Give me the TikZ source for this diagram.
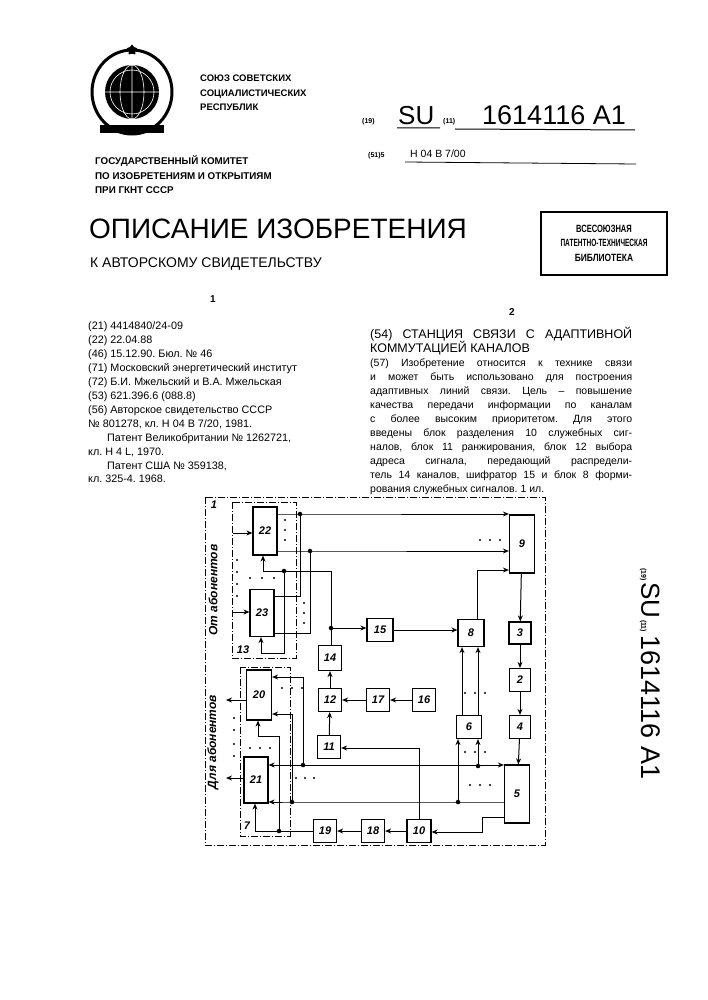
\documentclass[tikz,border=0pt]{standalone}
\usepackage{fontspec}
\setmainfont{Liberation Sans}
\usetikzlibrary{arrows.meta,shapes.geometric}
\newcommand{\fs}[1]{\fontsize{#1}{#1}\selectfont}
\frenchspacing
\begin{document}
\begin{tikzpicture}[x=1pt,y=-1pt,
  blk/.style={draw,line width=1.2pt,inner sep=0pt,font=\fs{11}\bfseries\itshape},
  w/.style={line width=1pt},
  ar/.style={line width=1pt,-{Stealth[length=6pt,width=5pt]}},
  dd/.style={line width=0.8pt,dash pattern=on 7pt off 2pt on 1pt off 2pt},
  tl/.style={anchor=base west,inner sep=0pt},
  dt/.style={circle,fill,inner sep=1.6pt}]
\useasboundingbox (0,0) rectangle (707,1000);
% emblem
\fill (132,92) circle (27);
\draw[line width=3pt] (132,92) ellipse (40 and 42);
\draw[white,line width=0.6pt] (132,92) circle (22) (105,92)--(159,92) (132,65)--(132,119) (132,92) ellipse (12 and 27);
\node[star,fill,minimum size=11pt,inner sep=0pt] (st) at (132,50) {};
\fill (100,125) rectangle (164,133);
% header text
\node[tl,font=\fs{9.5}\bfseries] (t1) at (200,82) {СОЮЗ  СОВЕТСКИХ};
\node[tl,font=\fs{9.5}\bfseries] (t2) at (200,97) {СОЦИАЛИСТИЧЕСКИХ};
\node[tl,font=\fs{9.5}\bfseries] (t3) at (200,111) {РЕСПУБЛИК};
\node[tl,font=\fs{7}\bfseries] (t4) at (362,124) {(19)};
\node[tl,font=\fs{26}] (t5) at (398,125) {SU};
\node[tl,font=\fs{7}\bfseries] (t6) at (443,124) {(11)};
\node[tl,font=\fs{27}] (t7) at (482,125) {1614116 A1};
\draw[line width=1pt] (397,128)--(440,128) (455,129)--(635,130);
\node[tl,font=\fs{7}\bfseries] (t8) at (368,158) {(51)5};
\node[tl,font=\fs{10.5}] (t9) at (410,158) {Н 04 В 7/00};
\draw[line width=0.8pt] (405,162)--(636,164);
\node[tl,font=\fs{9.8}\bfseries] (g1) at (95,165) {ГОСУДАРСТВЕННЫЙ  КОМИТЕТ};
\node[tl,font=\fs{9.8}\bfseries] (g2) at (95,180) {ПО ИЗОБРЕТЕНИЯМ И ОТКРЫТИЯМ};
\node[tl,font=\fs{9.8}\bfseries] (g3) at (95,194) {ПРИ ГКНТ СССР};
\node[tl,font=\fs{28}] (h1) at (89,239) {ОПИСАНИЕ ИЗОБРЕТЕНИЯ};
\node[tl,font=\fs{14}] (h2) at (90,267) {К АВТОРСКОМУ СВИДЕТЕЛЬСТВУ};
\draw[line width=1.5pt] (541,212) rectangle (667,275);
\node[font=\fs{10.5}\bfseries,align=center,inner sep=0pt] (stamp) at (604,243) {\scalebox{0.72}[1]{ВСЕСОЮЗНАЯ}\\[4pt]\scalebox{0.62}[1]{ПАТЕНТНО-ТЕХНИЧЕСКАЯ}\\[4pt]\scalebox{0.8}[1]{БИБЛИОТЕКА}};
\node[font=\fs{10}\bfseries] (c1) at (213,299) {1};
\node[font=\fs{10}\bfseries] (c2) at (512,312) {2};
% left column
\begin{scope}[every node/.style={tl,font=\fs{10.8}}]
\node (l1) at (88,329) {(21) 4414840/24-09};
\node (l2) at (88,343) {(22) 22.04.88};
\node (l3) at (88,357) {(46) 15.12.90. Бюл. № 46};
\node (l4) at (88,371) {(71) Московский энергетический институт};
\node (l5) at (88,385) {(72) Б.И. Мжельский и В.А. Мжельская};
\node (l6) at (88,399) {(53) 621.396.6 (088.8)};
\node (l7) at (88,413) {(56) Авторское свидетельство СССР};
\node (l8) at (88,427) {№ 801278, кл. Н 04 В 7/20, 1981.};
\node (l9) at (107,441) {Патент Великобритании № 1262721,};
\node (l10) at (88,455) {кл. Н 4 L, 1970.};
\node (l11) at (107,469) {Патент США № 359138,};
\node (l12) at (88,482) {кл. 325-4. 1968.};
\end{scope}
\begin{scope}[every node/.style={tl,font=\fs{10.5}}]
\node[font=\fs{12.5}] (r1) at (370,338) {\makebox[262pt][s]{(54) СТАНЦИЯ СВЯЗИ С АДАПТИВНОЙ}};
\node[font=\fs{12.5}] (r2) at (370,352) {КОММУТАЦИЕЙ КАНАЛОВ};
\node (r3) at (370,366) {\makebox[262pt][s]{(57) Изобретение относится к технике связи}};
\node (r4) at (370,380) {\makebox[262pt][s]{и может быть использовано для построения}};
\node (r5) at (370,394) {\makebox[262pt][s]{адаптивных линий связи. Цель – повышение}};
\node (r6) at (370,408) {\makebox[262pt][s]{качества передачи информации по каналам}};
\node (r7) at (370,422) {\makebox[262pt][s]{с более высоким приоритетом. Для этого}};
\node (r8) at (370,436) {\makebox[262pt][s]{введены блок разделения 10 служебных сиг-}};
\node (r9) at (370,450) {\makebox[262pt][s]{налов, блок 11 ранжирования, блок 12 выбора}};
\node (r10) at (370,464) {\makebox[262pt][s]{адреса сигнала, передающий распредели-}};
\node (r11) at (370,478) {\makebox[262pt][s]{тель 14 каналов, шифратор 15 и блок 8 форми-}};
\node (r12) at (370,492) {рования служебных сигналов. 1 ил.};
\end{scope}
\node[rotate=-90,anchor=west,inner sep=0pt] (side) at (650,568) {{\fs{7}\bfseries(19)}\,{\fs{26}SU}\,{\fs{7}\bfseries(11)}\,\,{\fs{27}1614116 A1}};
% frames
\draw[dd] (205,497) rectangle (545,845);
\draw[dd] (232,502) rectangle (296,658);
\draw[dd] (240,667) rectangle (290,836);
\node[font=\fs{11}\bfseries\itshape] (f1) at (214,505) {1};
\node[font=\fs{11}\bfseries\itshape] (f13) at (243,650) {13};
\node[font=\fs{11}\bfseries\itshape] (f7) at (247,826) {7};
\node[rotate=90,font=\fs{12}\bfseries\itshape] (ot) at (213,590) {От абонентов};
\node[rotate=90,font=\fs{12}\bfseries\itshape] (dl) at (213,742) {Для абонентов};
% blocks
\node[blk,minimum width=24pt,minimum height=48pt] (n22) at (265,531) {22};
\node[blk,minimum width=24pt,minimum height=47pt] (n23) at (262,613) {23};
\node[blk,minimum width=25pt,minimum height=58pt] (n9) at (522,544) {9};
\node[blk,minimum width=26pt,minimum height=23pt] (n15) at (380,630) {15};
\node[blk,minimum width=26pt,minimum height=27pt] (n8) at (471,633) {8};
\node[blk,minimum width=22pt,minimum height=22pt] (n3) at (520,633) {3};
\node[blk,minimum width=23pt,minimum height=25pt] (n14) at (330,658) {14};
\node[blk,minimum width=25pt,minimum height=50pt] (n20) at (259,695) {20};
\node[blk,minimum width=24pt,minimum height=46pt] (n21) at (256,780) {21};
\node[blk,minimum width=23pt,minimum height=23pt] (n12) at (330,700) {12};
\node[blk,minimum width=23pt,minimum height=23pt] (n17) at (378,700) {17};
\node[blk,minimum width=23pt,minimum height=23pt] (n16) at (424,700) {16};
\node[blk,minimum width=23pt,minimum height=23pt] (n11) at (329,747) {11};
\node[blk,minimum width=25pt,minimum height=23pt] (n6) at (469,727) {6};
\node[blk,minimum width=21pt,minimum height=23pt] (n2) at (520,680) {2};
\node[blk,minimum width=21pt,minimum height=23pt] (n4) at (520,727) {4};
\node[blk,minimum width=25pt,minimum height=58pt] (n5) at (517,794) {5};
\node[blk,minimum width=24pt,minimum height=23pt] (n10) at (419,831) {10};
\node[blk,minimum width=23pt,minimum height=23pt] (n18) at (373,831) {18};
\node[blk,minimum width=23pt,minimum height=23pt] (n19) at (325,831) {19};
% junctions
\coordinate (j1) at (300,514);
\coordinate (j2) at (310,551);
\coordinate (j3) at (284,571);
\coordinate (j4) at (331,628);
\coordinate (j5) at (303,765);
\coordinate (j6) at (478,766);
\coordinate (j7) at (292,802);
\coordinate (j8) at (458,802);
\coordinate (j9) at (279,831);
\foreach \p in {j1,j2,j3,j4,j5,j6,j7,j8,j9} \node[dt] at (\p) {};
% wires
\draw[ar] (n22.east|-j1) -- (j1) -- (n9.west|-j1);
\draw[w] (j1) -- (300,596) -- (n23.east|-0,596);
\draw[ar] (n22.east|-j2) -- (j2) -- (n9.west|-j2);
\draw[w] (j2) -- (310,633) -- (n23.east|-0,633);
\draw[ar] (331,571) -- (263,571) -- (n22.south-|263,0);
\draw[w] (j4) -- (331,571);
\draw[ar] (j3) -- (284,653) -- (261,653) -- (n23.south-|261,0);
\draw[ar] (n14.north-|j4) -- (j4) -- (n15.west|-j4);
\draw[ar] (n15) -- (n8.west|-n15);
\draw[ar] (n8.north-|477,0) -- (477,570) -- (n9.west|-0,570);
\draw[ar] (n9) -- (n3);
\draw[ar] (n3) -- (n2);
\draw[ar] (n2) -- (n4);
\draw[ar] (n4) -- (n5);
\draw[ar] (n6.north-|462,0) -- (n8.south-|462,0);
\draw[ar] (n6.north-|478,0) -- (n8.south-|478,0);
\draw[ar] (j5) -- (n21.east|-j5);
\draw[ar] (j5) -- (303,677) -- (n20.east|-0,677);
\draw[ar] (j5) -- (n5.west|-j5);
\draw[ar] (j6) -- (n6.south-|j6);
\draw[ar] (n5.west|-j7) -- (j7) -- (n21.east|-j7);
\draw[ar] (j8) -- (n6.south-|j8);
\draw[ar] (j7) -- (292,714) -- (n20.east|-0,714);
\draw[ar] (n5.west|-0,817) -- (482,817) -- (482,832) -- (n10.east|-0,832);
\draw[ar] (n10.north) -- (419,748) -- (n11.east|-0,748);
\draw[ar] (n11) -- (n12);
\draw[ar] (n12) -- (n14);
\draw[ar] (n16) -- (n17);
\draw[ar] (n17) -- (n12);
\draw[ar] (n10) -- (n18);
\draw[ar] (n18) -- (n19);
\draw[ar] (n19.west) -- (j9) -- (255,831) -- (n21.south-|255,0);
\draw[ar] (j9) -- (279,736) -- (258,736) -- (n20.south-|258,0);
\coordinate (i22) at (233,533); \coordinate (i23) at (232,612);
\draw[ar] (i22) -- (n22.west|-i22);
\draw[ar] (i23) -- (n23.west|-i23);
\coordinate (o20) at (226,700); \coordinate (o21) at (226,778);
\draw[ar] (n20.west|-o20) -- (o20);
\draw[ar] (n21.west|-o21) -- (o21);
% dots
\foreach \x/\y in {285/520,285/530,285/540, 304/603,304/613,304/623, 237/560,237/572,237/584,237/596, 250/578,262/578,274/578,
 480/540,490/540,500/540, 282/688,292/688,302/688, 296/778,305/778,314/778, 465/693,475/693,485/693, 465/752,475/752,485/752,
 470/785,480/785,490/785, 234/744,234/756,234/730,234/718, 250/748,260/748,270/748}
  \fill (\x,\y) circle (1.1pt);
\end{tikzpicture}
\end{document}
